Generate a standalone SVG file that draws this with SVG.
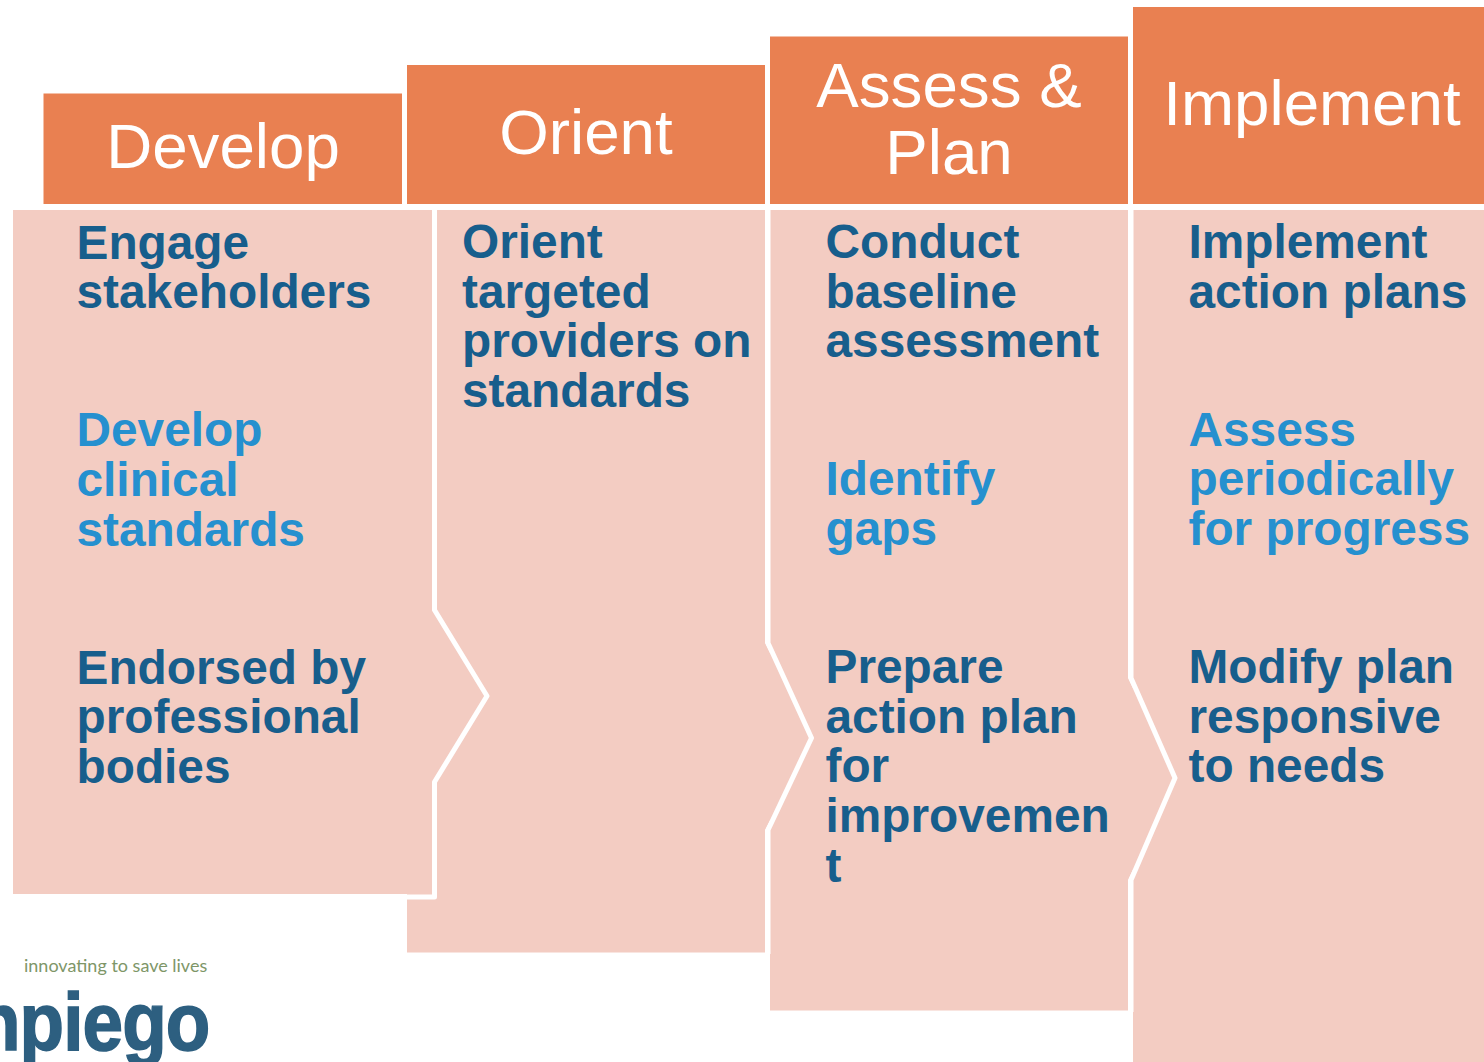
<svg xmlns="http://www.w3.org/2000/svg" width="1484" height="1062" viewBox="0 0 1484 1062">
<style>
.h{fill:#E98051}
.p{fill:#F3CCC2;stroke:none}
.o{fill:none;stroke:#fff;stroke-width:5;stroke-linejoin:round}
text{font-family:"Liberation Sans",Arial,sans-serif}
.t{font-size:63.700px;fill:#fff;text-anchor:middle}
.b{font-size:47.800px;font-weight:bold;fill:#175E8C}
.c{font-size:47.800px;font-weight:bold;fill:#2590CF}
</style>
<rect width="1484" height="1062" fill="#fff"/>
<g id="col4">
<rect class="h" x="1133" y="7" width="351" height="197"/>
<path class="p" d="M1133 210H1484V1062H1133Z"/>
<text class="t" x="1312" y="125">Implement</text>
</g>
<g id="col3">
<rect class="h" x="770" y="36.500" width="358" height="167.500"/>
<path class="p" d="M770 210H1128V678L1177 778L1128 880V1010.500H770Z"/>
<path class="o" d="M1131 208V678L1175 778L1131 880V1012"/>
<text class="t" x="949" y="107">Assess &amp;</text>
<text class="t" x="949" y="174">Plan</text>
</g>
<g id="col2">
<rect class="h" x="407" y="65" width="358" height="139"/>
<path class="p" d="M407 210H765V643L813 738L765 830V952.500H407Z"/>
<path class="o" d="M768 208V643L811.500 738L768 830V954"/>
<text class="t" x="586" y="154">Orient</text>
</g>
<g id="col1">
<rect class="h" x="43.500" y="93.500" width="358.500" height="110.500"/>
<path class="p" d="M13 210H433V610L488 696L433 782V894H13Z"/>
<path class="o" d="M434.500 208V610L487 696L434.500 782V897H407"/>
<text class="t" x="223" y="168">Develop</text>
</g>
<g id="col1-text">
<text class="b" x="76.500" y="259">Engage</text>
<text class="b" x="76.500" y="308">stakeholders</text>
<text class="c" x="76.500" y="446">Develop</text>
<text class="c" x="76.500" y="496">clinical</text>
<text class="c" x="76.500" y="546">standards</text>
<text class="b" x="76.500" y="684">Endorsed by</text>
<text class="b" x="76.500" y="733">professional</text>
<text class="b" x="76.500" y="783">bodies</text>
</g>
<g id="col2-text">
<text class="b" x="462" y="258">Orient</text>
<text class="b" x="462" y="308">targeted</text>
<text class="b" x="462" y="357">providers on</text>
<text class="b" x="462" y="407">standards</text>
</g>
<g id="col3-text">
<text class="b" x="825.500" y="258">Conduct</text>
<text class="b" x="825.500" y="308">baseline</text>
<text class="b" x="825.500" y="357">assessment</text>
<text class="c" x="825.500" y="495">Identify</text>
<text class="c" x="825.500" y="545">gaps</text>
<text class="b" x="825.500" y="683">Prepare</text>
<text class="b" x="825.500" y="733">action plan</text>
<text class="b" x="825.500" y="782">for</text>
<text class="b" x="825.500" y="832">improvemen</text>
<text class="b" x="825.500" y="882">t</text>
</g>
<g id="col4-text">
<text class="b" x="1188.500" y="258">Implement</text>
<text class="b" x="1188.500" y="308">action plans</text>
<text class="c" x="1188.500" y="446">Assess</text>
<text class="c" x="1188.500" y="495">periodically</text>
<text class="c" x="1188.500" y="545">for progress</text>
<text class="b" x="1188.500" y="683">Modify plan</text>
<text class="b" x="1188.500" y="733">responsive</text>
<text class="b" x="1188.500" y="782">to needs</text>
</g>
<g id="logo">
<text x="24" y="972" font-size="18" fill="#7E9668" style="font-family:'Lato',sans-serif">innovating to save lives</text>
<text transform="translate(-24 1050) scale(.9 1)" font-size="81" font-weight="bold" fill="#2D5F80" stroke="#2D5F80" stroke-width="1.500" letter-spacing="-1">npiego</text>
</g>
</svg>
